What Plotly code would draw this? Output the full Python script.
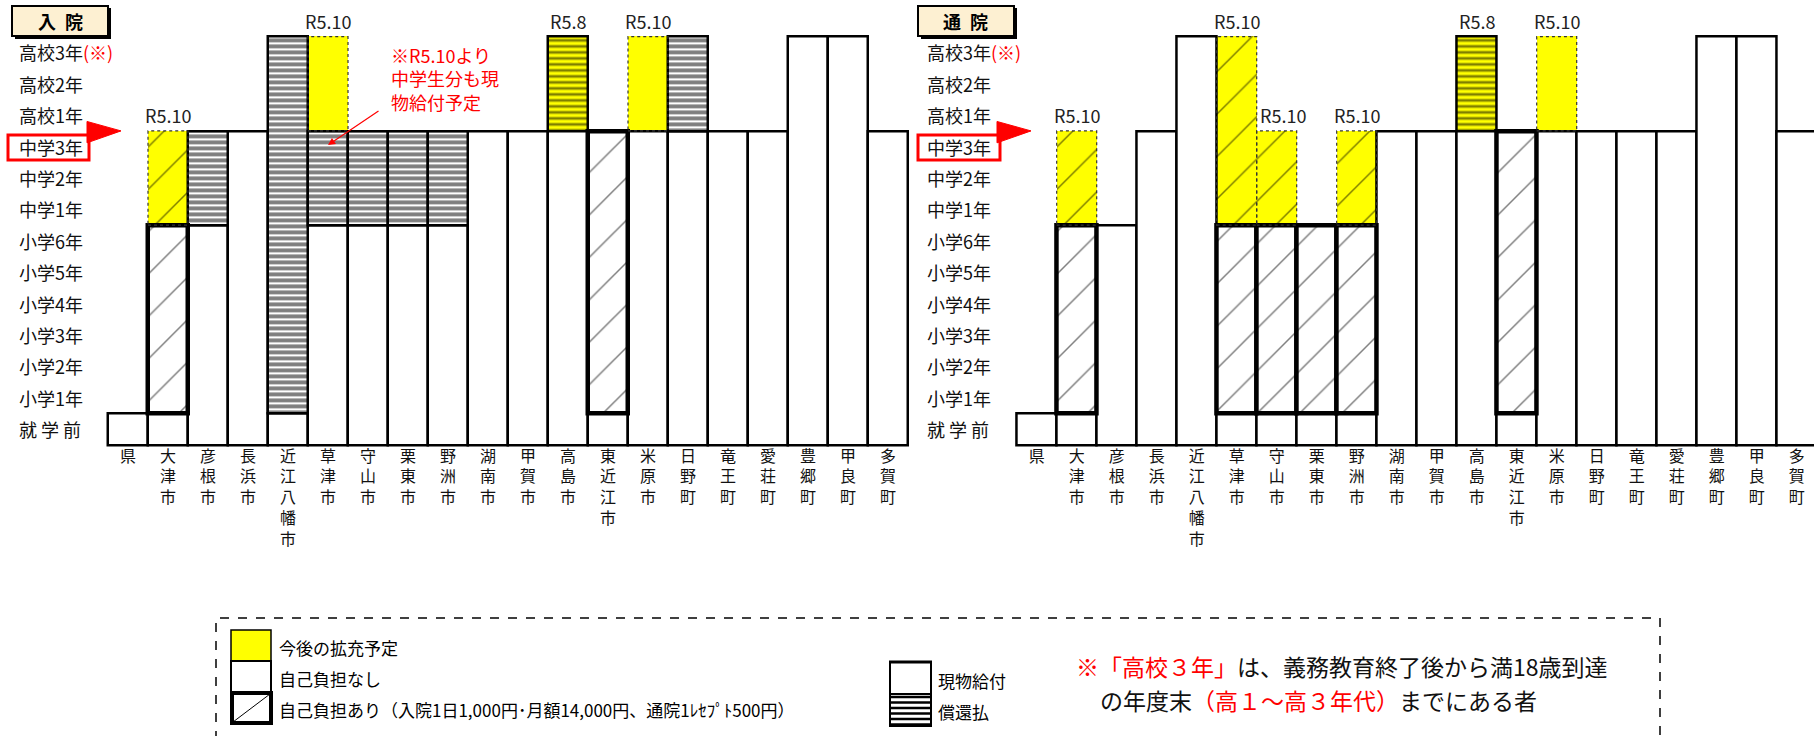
import plotly.graph_objects as go

W, H = 1814, 736
FONT = "Noto Sans CJK JP"

# ---------------- data ----------------
cities = ["県", "大津市", "彦根市", "長浜市", "近江八幡市", "草津市", "守山市", "栗東市", "野洲市",
          "湖南市", "甲賀市", "高島市", "東近江市", "米原市", "日野町", "竜王町", "愛荘町",
          "豊郷町", "甲良町", "多賀町"]
grades = ["就 学 前", "小学1年", "小学2年", "小学3年", "小学4年", "小学5年", "小学6年",
          "中学1年", "中学2年", "中学3年", "高校1年", "高校2年", "高校3年"]

# 入院 (hospitalisation)
# free of charge (現物給付・自己負担なし): from 就学前 up to (exclusive) grade index
nyuin_free_top = [1, 1, 7, 10, 1, 7, 7, 7, 7, 10, 10, 10, 1, 10, 10, 10, 10, 13, 13, 10]
# with co-payment (自己負担あり)
nyuin_copay_city = ["大津市", "東近江市"]
nyuin_copay_from = [1, 1]
nyuin_copay_to = [7, 10]
# reimbursement (償還払)
nyuin_refund_city = ["彦根市", "近江八幡市", "草津市", "守山市", "栗東市", "野洲市", "日野町"]
nyuin_refund_from = [7, 1, 7, 7, 7, 7, 10]
nyuin_refund_to = [10, 13, 10, 10, 10, 10, 13]
# planned expansion (今後の拡充予定)
nyuin_plan_city = ["大津市", "草津市", "高島市", "米原市"]
nyuin_plan_from = [7, 10, 10, 10]
nyuin_plan_to = [10, 13, 13, 13]
nyuin_plan_kind = ["copay", "free", "refund", "free"]
nyuin_plan_date = ["R5.10", "R5.10", "R5.8", "R5.10"]

# 通院 (outpatient)
tsuin_free_top = [1, 1, 7, 10, 13, 1, 1, 1, 1, 10, 10, 10, 1, 10, 10, 10, 10, 13, 13, 10]
tsuin_copay_city = ["大津市", "草津市", "守山市", "栗東市", "野洲市", "東近江市"]
tsuin_copay_from = [1, 1, 1, 1, 1, 1]
tsuin_copay_to = [7, 7, 7, 7, 7, 10]
tsuin_refund_city = []
tsuin_refund_from = []
tsuin_refund_to = []
tsuin_plan_city = ["大津市", "草津市", "守山市", "野洲市", "高島市", "米原市"]
tsuin_plan_from = [7, 7, 7, 7, 10, 10]
tsuin_plan_to = [10, 13, 10, 10, 13, 13]
tsuin_plan_kind = ["copay", "copay", "copay", "copay", "refund", "free"]
tsuin_plan_date = ["R5.10", "R5.10", "R5.10", "R5.10", "R5.8", "R5.10"]

note_text = "※R5.10より<br>中学生分も現<br>物給付予定"
legend_items = ["今後の拡充予定", "自己負担なし",
                "自己負担あり（入院1日1,000円･月額14,000円、通院1ﾚｾﾌﾟﾄ500円）"]
legend_items2 = ["現物給付", "償還払"]
footnote_lines = ["<span style='color:#FF0000'>※「高校３年」</span>は、義務教育終了後から満18歳到達",
                  "の年度末<span style='color:#FF0000'>（高１～高３年代）</span>までにある者"]

# ---------------- layout constants ----------------
ROW_PX = 31.41
Y0_PX = 445.0
yr = [-0.08, 13.55]
ydom = [(H - (Y0_PX - yr[0] * ROW_PX)) / H, (H - (Y0_PX - yr[1] * ROW_PX)) / H]
COL_PX = 40.0
X0_L = 128.0
X0_R = 1036.7
xr1 = [-0.55, 19.55]
xdom1 = [(X0_L + xr1[0] * COL_PX) / W, (X0_L + xr1[1] * COL_PX) / W]
xr2 = [-0.55, (W - X0_R) / COL_PX]
xdom2 = [(X0_R + xr2[0] * COL_PX) / W, 1.0]

YELLOW = "#FFFF00"
HATCH = dict(shape="/", size=30, solidity=0.05, fgcolor="#000000", fillmode="overlay")
STRIPE = dict(shape="-", size=6, solidity=0.65, fgcolor="#000000", fillmode="overlay")
STRIPE_Y = dict(shape="-", size=6, solidity=0.45, fgcolor="#000000", fillmode="overlay")

fig = go.Figure()
shapes = []
annotations = []


def bar(xa, idx, base, top, color, pattern=None, lw=2.5):
    if not idx:
        return
    pat = dict(pattern, bgcolor=color) if pattern else dict(shape="")
    fig.add_trace(go.Bar(
        x=idx, y=[t - b for b, t in zip(base, top)], base=base, width=1,
        marker=dict(color=color, line=dict(width=lw, color="#000000"), pattern=pat),
        xaxis=xa, yaxis="y", hoverinfo="skip", showlegend=False))


def panel(xa, free_top, copay_city, copay_from, copay_to, refund_city, refund_from, refund_to,
          plan_city, plan_from, plan_to, plan_kind, plan_date):
    xref = "x" if xa == "x" else "x2"
    # planned (yellow) first so neighbours' borders sit on top
    for kind, pattern, lw in [("free", None, 0), ("copay", HATCH, 0), ("refund", STRIPE_Y, 2.5)]:
        sel = [i for i, k in enumerate(plan_kind) if k == kind]
        bar(xa, [cities.index(plan_city[i]) for i in sel], [plan_from[i] for i in sel],
            [plan_to[i] for i in sel], YELLOW, pattern, lw)
    # free
    bar(xa, list(range(len(cities))), [0] * len(cities), free_top, "#FFFFFF")
    # refund stripes
    bar(xa, [cities.index(c) for c in refund_city], refund_from, refund_to, "#FFFFFF", STRIPE)
    # co-payment hatched, thick border
    bar(xa, [cities.index(c) for c in copay_city], copay_from, copay_to, "#FFFFFF", HATCH, 4.5)
    # tops per column (for label shifting)
    tops = list(free_top)
    for c, t in zip(copay_city + refund_city + plan_city, copay_to + refund_to + plan_to):
        tops[cities.index(c)] = max(tops[cities.index(c)], t)
    for c, f, t, k, d in zip(plan_city, plan_from, plan_to, plan_kind, plan_date):
        i = cities.index(c)
        if k != "refund":
            shapes.append(dict(type="rect", xref=xref, yref="y", x0=i - 0.5, x1=i + 0.5, y0=f, y1=t,
                               line=dict(color="#333333", width=1.2, dash="dot"), layer="above"))
        shift = 6 if (i > 0 and tops[i - 1] > t) else 0
        annotations.append(dict(x=i, y=t, xref=xref, yref="y", text=d, showarrow=False,
                                xanchor="center", yanchor="bottom", xshift=shift, yshift=1,
                                font=dict(family=FONT, size=18, color="#222222")))


panel("x", nyuin_free_top, nyuin_copay_city, nyuin_copay_from, nyuin_copay_to,
      nyuin_refund_city, nyuin_refund_from, nyuin_refund_to,
      nyuin_plan_city, nyuin_plan_from, nyuin_plan_to, nyuin_plan_kind, nyuin_plan_date)
panel("x2", tsuin_free_top, tsuin_copay_city, tsuin_copay_from, tsuin_copay_to,
      tsuin_refund_city, tsuin_refund_from, tsuin_refund_to,
      tsuin_plan_city, tsuin_plan_from, tsuin_plan_to, tsuin_plan_kind, tsuin_plan_date)


def px(x):
    return x / W


def py(y):
    return 1 - y / H


# row labels, title boxes, red markers for both panels
for lab_x, box_x0, title, red_box, flag in [
        (17, 12, "入\u2002院", (8, 89), (87, 121)),
        (925, 918, "通\u2002院", (918, 1000), (997, 1031))]:
    for gi, g in enumerate(grades):
        txt = g + ("<span style='color:#FF0000'>(※)</span>" if gi == len(grades) - 1 else "")
        annotations.append(dict(x=px(lab_x), y=gi + 0.5, xref="paper", yref="y", text=txt,
                                showarrow=False, xanchor="left", yanchor="middle",
                                font=dict(family=FONT, size=18, color="#111111")))
    # title box with shadow
    shapes.append(dict(type="rect", xref="paper", yref="paper", x0=px(box_x0 + 3), x1=px(box_x0 + 99),
                       y0=py(39), y1=py(8), fillcolor="#000000", line=dict(width=0), layer="above"))
    shapes.append(dict(type="rect", xref="paper", yref="paper", x0=px(box_x0), x1=px(box_x0 + 96),
                       y0=py(36), y1=py(6), fillcolor="#FDF0D2", line=dict(color="#000000", width=2),
                       layer="above"))
    annotations.append(dict(x=px(box_x0 + 48), y=py(21), xref="paper", yref="paper",
                            text="<b>" + title + "</b>", showarrow=False,
                            xanchor="center", yanchor="middle",
                            font=dict(family=FONT, size=18, color="#000000")))
    gi3 = grades.index("中学3年")
    shapes.append(dict(type="rect", xref="paper", yref="y", x0=px(red_box[0]), x1=px(red_box[1]),
                       y0=gi3 + 0.07, y1=gi3 + 0.87, line=dict(color="#FF0000", width=3),
                       layer="above"))
    shapes.append(dict(type="path", xref="paper", yref="y",
                       path=f"M{px(flag[0])},{gi3 + 1.3} L{px(flag[1])},{gi3 + 1.0} L{px(flag[0])},{gi3 + 0.62} Z",
                       fillcolor="#FF0000", line=dict(color="#FF0000", width=1), layer="above"))

# red note with arrow (left panel, 草津市)
ki = cities.index("草津市")
annotations.append(dict(x=px(389), y=py(40), xref="paper", yref="paper", text=note_text,
                        showarrow=False, xanchor="left", yanchor="top", align="left",
                        font=dict(family=FONT, size=18, color="#FF0000")))
annotations.append(dict(x=ki, y=nyuin_refund_to[nyuin_refund_city.index("草津市")] - 0.45,
                        xref="x", yref="y", text="", showarrow=True, ax=52, ay=-35,
                        arrowhead=2, arrowsize=1.2, arrowwidth=1.2, arrowcolor="#FF0000"))

# ---------------- legend box ----------------
shapes.append(dict(type="path", xref="paper", yref="paper",
                   path=f"M{px(216)},{py(740)} L{px(216)},{py(618)} L{px(1660)},{py(618)} L{px(1660)},{py(740)}",
                   line=dict(color="#000000", width=1.5, dash="dash")))
# swatches
shapes.append(dict(type="rect", xref="paper", yref="paper", x0=px(231), x1=px(271), y0=py(661), y1=py(630),
                   fillcolor=YELLOW, line=dict(color="#000000", width=1.5)))
shapes.append(dict(type="rect", xref="paper", yref="paper", x0=px(231), x1=px(271), y0=py(692), y1=py(661),
                   fillcolor="#FFFFFF", line=dict(color="#000000", width=2)))
shapes.append(dict(type="rect", xref="paper", yref="paper", x0=px(232), x1=px(271), y0=py(723), y1=py(693),
                   fillcolor="#FFFFFF", line=dict(color="#000000", width=4)))
shapes.append(dict(type="line", xref="paper", yref="paper", x0=px(233), x1=px(270), y0=py(722), y1=py(694),
                   line=dict(color="#000000", width=1)))
for k, t in enumerate(legend_items):
    annotations.append(dict(x=px(277), y=py(647 + 31 * k), xref="paper", yref="paper", text=t,
                            showarrow=False, xanchor="left", yanchor="middle",
                            font=dict(family=FONT, size=17, color="#000000")))
shapes.append(dict(type="rect", xref="paper", yref="paper", x0=px(890), x1=px(931), y0=py(694), y1=py(662),
                   fillcolor="#FFFFFF", line=dict(color="#000000", width=2)))
shapes.append(dict(type="line", xref="paper", yref="paper", x0=px(889), x1=px(932), y0=py(662), y1=py(662),
                   line=dict(color="#000000", width=3)))
shapes.append(dict(type="rect", xref="paper", yref="paper", x0=px(890), x1=px(931), y0=py(726), y1=py(694),
                   fillcolor="#FFFFFF", line=dict(color="#000000", width=2)))
for s in range(6):
    yy = 697 + 5.5 * s
    shapes.append(dict(type="line", xref="paper", yref="paper", x0=px(890), x1=px(931), y0=py(yy), y1=py(yy),
                       line=dict(color="#000000", width=2.5)))
for k, t in enumerate(legend_items2):
    annotations.append(dict(x=px(936), y=py(680 + 31 * k), xref="paper", yref="paper", text=t,
                            showarrow=False, xanchor="left", yanchor="middle",
                            font=dict(family=FONT, size=17, color="#000000")))
for k, (fx, fy) in enumerate([(1074, 666), (1098, 700)]):
    annotations.append(dict(x=px(fx), y=py(fy), xref="paper", yref="paper", text=footnote_lines[k],
                            showarrow=False, xanchor="left", yanchor="middle", align="left",
                            font=dict(family=FONT, size=23, color="#111111")))

tick_text = ["<br>".join(list(c)) for c in cities]
xcommon = dict(showgrid=False, zeroline=False, showline=False, ticks="", anchor="y",
               tickmode="array", tickvals=list(range(len(cities))), ticktext=tick_text,
               tickfont=dict(family=FONT, size=16, color="#111111"), fixedrange=True,
               ticklabelstandoff=-3)

fig.update_layout(
    width=W, height=H, margin=dict(l=0, r=0, t=0, b=0),
    paper_bgcolor="#FFFFFF", plot_bgcolor="#FFFFFF",
    barmode="overlay", bargap=0, showlegend=False,
    xaxis=dict(xcommon, domain=xdom1, range=xr1),
    xaxis2=dict(xcommon, domain=xdom2, range=xr2),
    yaxis=dict(domain=ydom, range=yr, visible=False, fixedrange=True),
    shapes=shapes, annotations=annotations,
)

fig.write_html("out.html", config={"displayModeBar": False},
               post_script="document.body.style.margin='0';")
